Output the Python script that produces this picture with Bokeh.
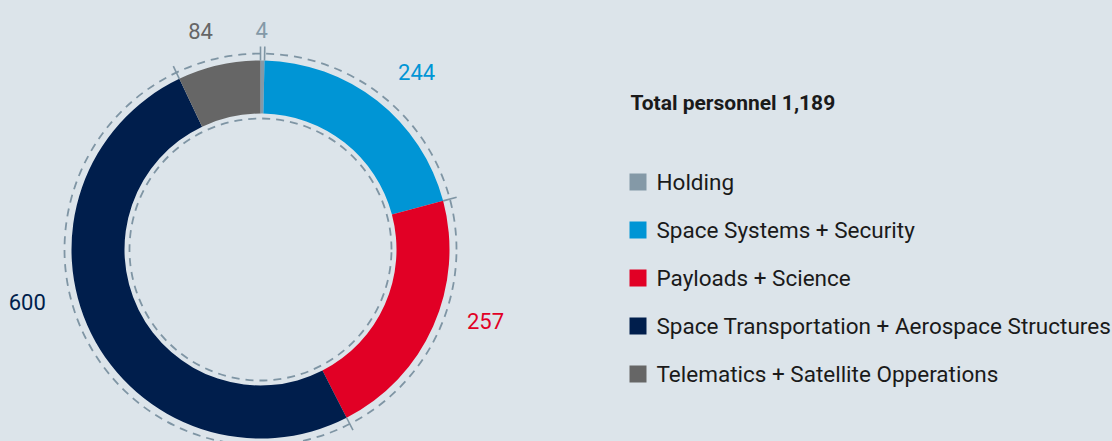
import math
from bokeh.plotting import figure
from bokeh.models import Range1d, ColumnDataSource, GlobalInlineStyleSheet
from bokeh.core.properties import value
from bokeh.embed import file_html
from bokeh.resources import INLINE

# ---------------- data ----------------
categories = [
    "Holding",
    "Space Systems + Security",
    "Payloads + Science",
    "Space Transportation + Aerospace Structures",
    "Telematics + Satellite Opperations",
]
personnel = [4, 244, 257, 600, 84]
title_text = "Total personnel 1,189"

# ---------------- style / layout ----------------
colors = ["#8499a7", "#0095d5", "#e10025", "#001e4c", "#666666"]
bg = "#dce4ea"
dash_color = "#7f95a4"
text_dark = "#1a1a1a"
FONT = "Roboto"

W, H = 1112, 441           # figure size
OX, OY = 0, 0              # page offset of the figure
CX, CY = 260, 249          # donut centre (page px)
R_OUT, R_IN = 189, 136
R_DASH_OUT, R_DASH_IN = 196, 131
TICK_R0, TICK_R1 = 189, 203
label_angle_deg = [0.3, 41.4, 107.6, 257.4, 344.7]   # label placement (clockwise from top)
label_radius = [220, 236, 236, 239, 227]
LEG_X_SW, LEG_X_TXT, LEG_Y0, LEG_DY = 637.5, 656, 181.5, 48
TITLE_X, TITLE_Y = 630, 102.5

def px(xp):
    return xp - CX

def py(yp):
    return CY - yp

p = figure(
    width=W, height=H,
    x_range=Range1d(OX - CX, OX + W - CX),
    y_range=Range1d(CY - (OY + H), CY - OY),
    output_backend="svg", toolbar_location=None, min_border=0,
    background_fill_color=bg, border_fill_color=bg, outline_line_color=None,
)
p.axis.visible = False
p.grid.visible = False
p.stylesheets = [GlobalInlineStyleSheet(css="html,body{background:%s;margin:0;overflow:hidden;}" % bg)]

# wedges
total = sum(personnel)
bounds = [0.0]
for v in personnel:
    bounds.append(bounds[-1] + v / total * 2 * math.pi)
starts = [math.pi / 2 - b for b in bounds[:-1]]
ends = [math.pi / 2 - b for b in bounds[1:]]
src = ColumnDataSource(dict(start=starts, end=ends, color=colors, cat=categories, val=personnel))
p.annular_wedge(x=0, y=0, inner_radius=R_IN, outer_radius=R_OUT,
                start_angle="start", end_angle="end", direction="clock",
                fill_color="color", line_color=None, source=src)

# dashed guide circles
for r in (R_DASH_OUT, R_DASH_IN):
    p.arc(x=0, y=0, radius=r, start_angle=0, end_angle=2 * math.pi,
          line_color=dash_color, line_width=1.8, line_dash="8 6")

# ticks at segment boundaries
bnd = bounds[:-1]
p.segment(x0=[TICK_R0 * math.sin(b) for b in bnd], y0=[TICK_R0 * math.cos(b) for b in bnd],
          x1=[TICK_R1 * math.sin(b) for b in bnd], y1=[TICK_R1 * math.cos(b) for b in bnd],
          line_color=dash_color, line_width=1.6)

# value labels
la = [math.radians(a) for a in label_angle_deg]
p.text(x=[r * math.sin(a) for r, a in zip(label_radius, la)],
       y=[r * math.cos(a) for r, a in zip(label_radius, la)],
       text=[str(v) for v in personnel], text_color=colors,
       text_font=value(FONT), text_font_size="22px",
       text_align="center", text_baseline="middle")

# title
p.text(x=[px(TITLE_X)], y=[py(TITLE_Y)], text=[title_text], text_color=text_dark,
       text_font=value(FONT), text_font_style="bold", text_font_size="21px",
       text_align="left", text_baseline="middle")

# legend
rows = list(range(len(categories)))
p.scatter(x=[px(LEG_X_SW)] * len(rows), y=[py(LEG_Y0 + LEG_DY * i) for i in rows],
          marker="square", size=17, fill_color=colors, line_color=None)
p.text(x=[px(LEG_X_TXT)] * len(rows), y=[py(LEG_Y0 + LEG_DY * i) for i in rows],
       text=categories, text_color=text_dark, text_font=value(FONT),
       text_font_size="22.5px", text_align="left", text_baseline="middle")

open("out.html", "w").write(file_html(p, INLINE))
